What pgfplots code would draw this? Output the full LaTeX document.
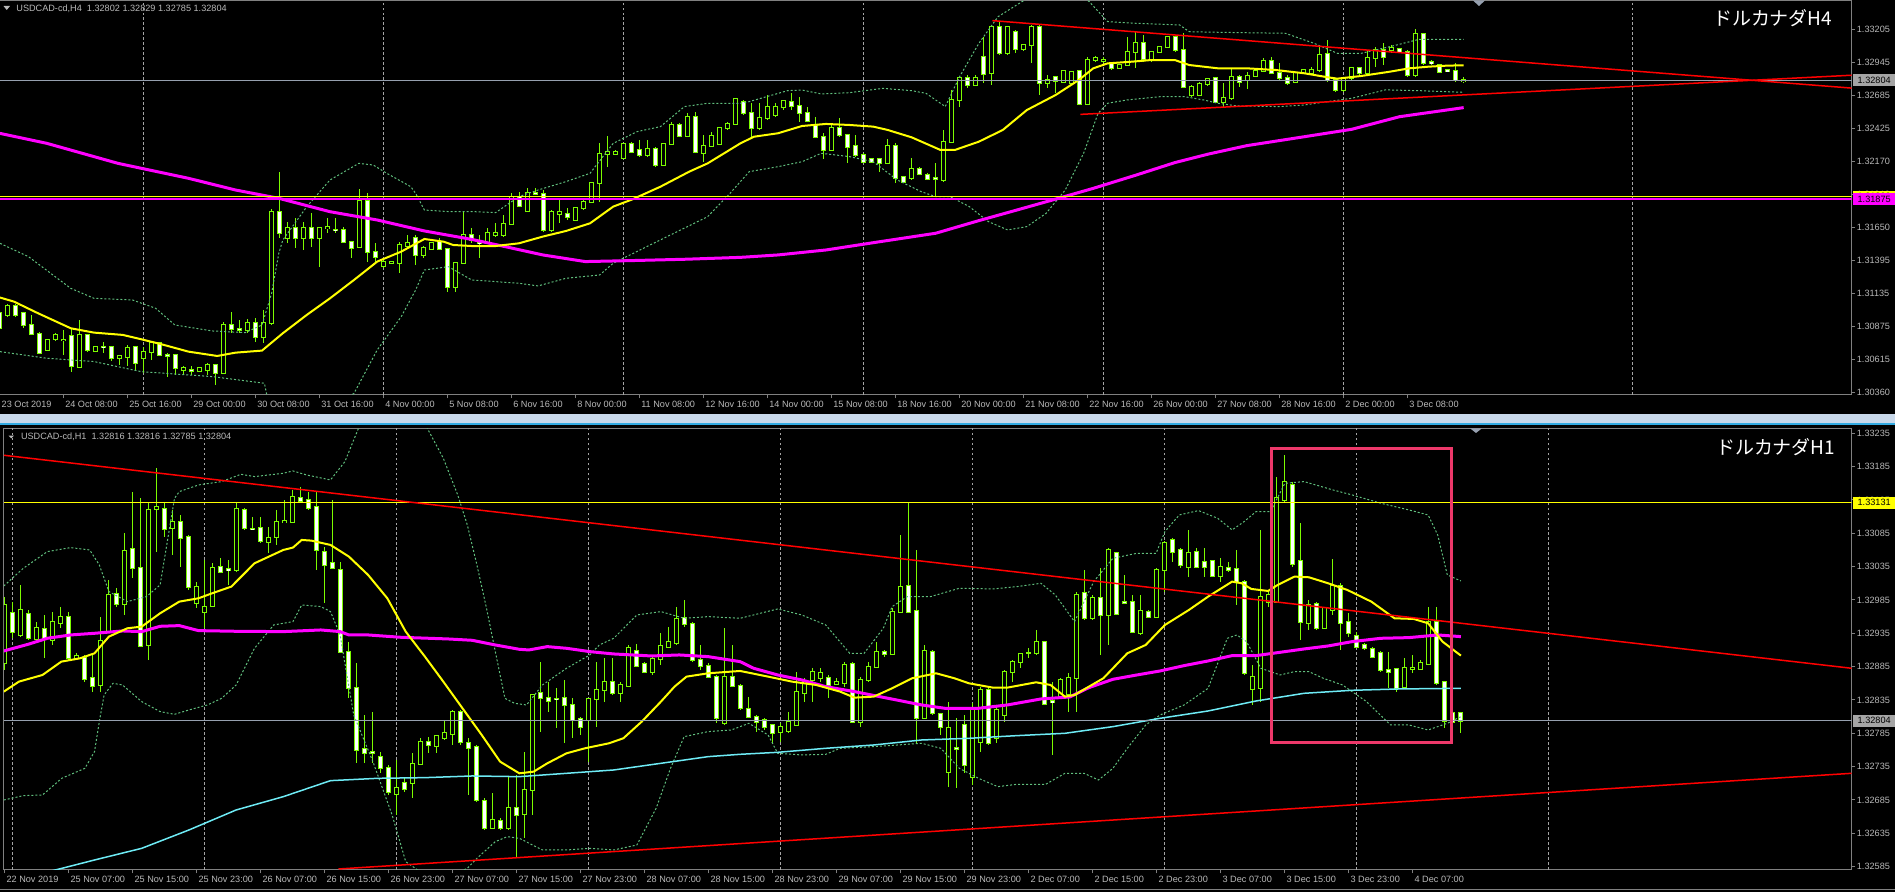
\documentclass[border=0pt]{standalone}
\usepackage{fontspec}
\setmainfont{Liberation Sans}
\newfontfamily\cjk{Noto Sans CJK JP}
\usepackage{pgfplots}
\usepackage{pgfplotstable}
\pgfplotsset{compat=1.18}

\definecolor{cgreen}{RGB}{124,252,0}
\definecolor{bbgreen}{RGB}{96,190,125}
\definecolor{mayel}{RGB}{255,255,0}
\definecolor{mamag}{RGB}{255,0,255}
\definecolor{macyan}{RGB}{110,235,245}
\definecolor{trred}{RGB}{255,0,0}
\definecolor{bidgray}{RGB}{150,160,175}
\definecolor{boxgray}{RGB}{165,165,165}
\definecolor{gridgray}{RGB}{165,165,165}
\definecolor{framegray}{RGB}{128,128,128}
\definecolor{txt}{RGB}{185,185,185}
\definecolor{sepblue}{RGB}{200,216,234}
\definecolor{sepline}{RGB}{50,170,225}
\definecolor{boxpink}{RGB}{238,56,106}
\definecolor{marker}{RGB}{150,160,175}

\newcommand\lbl{\fontsize{2.6}{3.1}\selectfont}

% H4 candles: i = bar index, prices in 0.0001 above 1.30000
\pgfplotstableread{
i o h l c
0 97.9 99.2 84.8 86.1
1 96.6 105.2 95.2 103.6
2 103.6 104.9 95.3 96.6
3 97.9 99.0 86.1 88.7
4 88.7 96.6 81.4 81.4
5 81.4 83.5 66.0 67.0
6 69.1 78.0 68.0 77.0
7 77.5 82.2 76.5 80.9
8 77.0 84.8 65.2 77.3
9 80.1 86.1 52.1 56.6
10 56.1 92.6 56.1 80.9
11 80.9 81.4 67.8 69.1
12 68.3 72.5 67.5 71.7
13 71.7 75.6 67.0 71.4
14 71.2 71.7 60.8 62.6
15 62.6 65.5 57.4 64.4
16 63.9 73.0 56.6 70.9
17 71.2 71.7 53.5 58.7
18 62.6 71.7 50.8 67.8
19 67.8 75.6 61.3 74.9
20 74.9 75.6 64.4 65.2
21 65.2 66.5 48.2 64.4
22 65.2 65.5 49.5 54.8
23 53.5 56.6 49.5 55.3
24 53.5 56.6 49.5 52.7
25 52.9 55.5 52.1 54.8
26 53.5 58.7 49.5 57.4
27 57.4 57.4 41.7 50.8
28 50.8 91.3 50.8 88.7
29 88.7 99.2 82.2 85.3
30 85.3 92.6 82.2 85.0
31 84.8 93.2 82.7 90.5
32 90.5 94.0 75.6 79.0
33 79.0 100.5 74.3 90.5
34 90.5 180.0 89.0 177.6
35 177.6 208.4 156.7 160.6
36 156.7 169.7 152.7 165.0
37 165.0 172.3 148.8 157.2
38 157.2 169.7 147.5 164.5
39 164.5 176.3 150.1 156.7
40 156.7 165.8 134.5 165.0
41 164.8 172.3 160.6 165.3
42 163.4 172.3 160.6 163.0
43 163.2 165.8 152.7 154.1
44 154.1 154.1 141.0 148.8
45 150.1 195.1 150.1 185.9
46 185.9 192.5 138.4 146.2
47 146.2 152.7 138.4 142.3
48 135.0 139.7 133.2 138.4
49 137.1 139.0 136.5 138.4
50 137.1 154.1 129.2 151.4
51 150.7 159.3 148.8 153.3
52 156.7 159.3 135.8 143.6
53 143.6 150.7 141.0 148.8
54 148.0 154.1 147.5 153.3
55 154.1 156.7 147.5 148.0
56 148.0 148.8 114.9 118.3
57 118.3 138.4 114.9 137.6
58 137.6 177.6 137.1 159.3
59 159.3 164.5 152.7 155.4
60 153.3 159.3 141.0 153.0
61 154.1 164.5 152.7 160.6
62 159.3 168.4 158.0 160.6
63 159.3 175.0 158.0 167.9
64 167.9 192.5 167.1 189.3
65 189.3 193.2 181.5 182.0
66 178.3 195.9 178.3 192.5
67 192.5 195.9 190.6 191.2
68 191.2 194.6 161.9 163.2
69 163.2 178.9 161.9 177.0
70 175.7 188.0 168.4 177.0
71 175.5 180.2 171.0 173.1
72 171.0 181.0 170.0 180.2
73 180.2 186.7 178.9 185.4
74 185.4 200.3 184.1 199.8
75 199.8 231.1 185.4 222.5
76 222.5 236.9 212.8 224.6
77 222.8 225.5 222.0 224.6
78 219.4 231.1 218.6 230.4
79 230.4 232.4 224.6 224.6
80 225.9 233.8 220.7 222.0
81 222.0 233.8 220.7 226.4
82 226.4 228.5 212.8 214.2
83 214.2 231.0 213.5 230.4
84 230.4 248.1 229.8 245.5
85 245.5 246.8 236.4 236.9
86 236.9 255.2 236.4 252.0
87 252.0 256.0 223.3 224.1
88 223.8 237.7 216.8 229.0
89 229.0 240.3 228.5 236.9
90 230.6 244.2 229.8 242.9
91 242.9 248.1 241.6 246.3
92 246.3 265.6 246.0 265.6
93 263.8 265.1 253.4 254.7
94 254.7 262.5 236.4 242.9
95 242.9 262.5 241.6 250.7
96 250.7 269.0 249.4 259.4
97 253.4 262.5 252.0 259.4
98 259.4 265.1 257.3 264.3
99 263.8 270.3 257.3 260.4
100 260.4 267.7 248.1 254.7
101 254.7 259.9 248.1 248.9
102 245.0 252.0 235.1 236.4
103 236.4 239.0 218.6 225.9
104 225.9 246.8 225.4 242.9
105 242.9 250.7 236.4 237.7
106 237.7 237.7 216.0 228.5
107 229.0 237.7 220.7 222.0
108 222.0 223.3 215.5 216.8
109 218.6 219.4 216.0 216.8
110 218.6 219.4 208.9 216.0
111 216.0 234.3 215.5 229.0
112 229.0 231.1 199.8 203.7
113 204.5 205.0 199.8 201.1
114 203.7 219.4 202.4 210.8
115 210.8 212.8 206.3 207.1
116 206.3 207.6 202.4 202.9
117 203.9 215.5 189.3 203.5
118 202.4 241.6 201.1 232.4
119 232.4 272.9 232.4 265.1
120 265.1 283.4 259.9 282.1
121 282.1 284.7 274.3 276.9
122 276.9 284.7 276.6 282.1
123 298.5 314.8 278.2 285.5
124 286.0 323.9 276.9 322.6
125 322.6 327.3 300.4 301.7
126 301.7 323.0 300.4 322.6
127 318.2 320.0 301.7 304.8
128 304.8 309.0 303.5 308.2
129 308.2 323.9 294.4 322.6
130 322.6 323.9 269.0 278.7
131 278.2 284.7 274.3 280.8
132 282.9 283.4 270.3 279.7
133 279.5 288.1 278.2 287.8
134 278.2 288.0 277.5 287.3
135 287.8 288.6 261.2 262.0
136 262.0 299.1 261.2 296.5
137 296.5 299.6 295.2 297.8
138 296.0 299.1 293.9 296.2
139 293.9 295.2 288.6 289.9
140 289.9 293.0 289.5 292.6
141 292.6 314.8 291.8 303.0
142 303.0 318.7 289.9 309.5
143 309.5 316.1 295.2 297.0
144 297.0 303.3 295.2 303.0
145 303.0 307.5 302.5 306.9
146 306.9 315.3 305.6 314.2
147 314.2 314.8 303.0 304.3
148 304.3 317.4 274.3 275.6
149 269.0 276.9 267.7 275.6
150 269.0 279.5 268.2 277.4
151 277.4 282.1 276.1 281.3
152 282.1 282.9 262.5 263.8
153 263.8 278.2 259.9 266.4
154 266.4 289.9 265.1 283.4
155 283.4 284.7 275.6 279.5
156 280.8 287.3 273.5 283.9
157 283.9 289.9 283.4 288.1
158 288.1 297.8 287.3 295.7
159 295.7 298.5 285.5 286.5
160 286.5 293.9 280.8 282.1
161 282.1 284.7 276.9 278.2
162 279.5 286.5 278.2 286.0
163 286.0 289.5 285.5 288.6
164 286.5 291.2 285.5 288.6
165 288.6 306.9 287.3 300.4
166 300.9 312.1 279.5 280.8
167 280.8 282.1 271.7 273.0
168 273.0 283.4 271.7 282.6
169 282.6 291.2 280.8 290.4
170 289.9 290.4 285.0 286.5
171 286.5 304.3 284.7 298.3
172 298.3 306.9 291.2 304.3
173 304.3 309.5 292.6 299.1
174 304.3 308.2 301.7 306.1
175 304.8 306.1 301.7 303.0
176 303.0 304.3 282.9 284.7
177 284.7 320.5 283.4 316.6
178 316.6 317.4 292.6 294.4
179 294.9 296.5 292.6 293.9
180 292.6 293.1 286.0 287.3
181 288.6 289.0 287.3 287.8
182 288.1 293.9 279.5 280.8
183 280.2 282.9 278.5 280.4
}\hfour

% H1 candles: j = bar index, prices in 0.0001 above 1.30000
\pgfplotstableread{
i o h l c
0 289.0 299.0 288.0 297.75
1 296.5 298.25 292.75 293.75
2 293.25 300.75 293.0 297.0
3 296.35 297.0 292.5 292.85
4 292.65 295.25 292.25 294.25
5 294.15 296.25 289.75 292.75
6 292.5 296.75 291.75 295.15
7 295.0 297.5 294.25 296.0
8 295.9 296.75 289.5 289.85
9 289.85 290.5 289.5 290.15
10 289.85 290.25 286.25 286.65
11 286.85 290.25 284.75 285.65
12 285.75 296.0 284.75 292.35
13 293.75 301.5 293.75 299.25
14 299.35 300.25 297.5 297.85
15 297.85 308.5 296.25 305.85
16 306.1 314.75 301.75 303.25
17 303.35 313.75 291.5 291.65
18 291.75 313.0 289.5 312.0
19 312.15 318.25 305.75 312.4
20 312.1 313.0 308.0 309.1
21 309.25 312.0 305.25 310.15
22 310.25 311.25 303.5 307.85
23 308.0 308.25 300.0 300.5
24 298.0 301.25 297.25 300.5
25 296.65 304.5 294.25 297.5
26 297.65 304.0 297.5 303.35
27 303.5 304.75 302.75 302.75
28 303.1 304.5 300.75 303.0
29 303.0 313.0 302.75 312.1
30 312.0 312.25 309.0 309.25
31 309.2 311.0 309.0 309.1
32 309.25 311.0 307.0 307.35
33 307.25 309.5 305.5 307.75
34 308.0 312.0 306.75 310.25
35 310.15 313.5 310.0 310.35
36 310.25 315.0 310.0 314.0
37 313.75 315.5 313.15 313.4
38 313.45 314.75 312.0 312.25
39 312.5 314.75 303.0 306.0
40 305.75 306.5 298.0 303.75
41 304.0 313.5 303.25 303.35
42 303.0 304.25 290.5 290.65
43 290.65 292.25 283.75 285.25
44 285.35 289.0 274.0 276.0
45 276.1 281.25 274.0 275.5
46 275.65 281.75 274.0 275.6
47 275.0 275.65 272.5 273.25
48 273.35 273.75 269.25 269.65
49 269.35 274.5 266.25 270.25
50 271.0 271.75 269.75 270.15
51 271.0 275.5 268.75 273.85
52 273.85 277.75 273.75 277.15
53 277.15 278.0 275.5 276.75
54 276.6 278.25 275.6 278.1
55 277.85 280.5 277.5 278.5
56 278.35 282.0 276.75 281.65
57 281.75 282.0 276.75 277.25
58 277.1 277.75 269.25 276.35
59 276.5 276.75 268.25 268.5
60 268.35 268.75 264.0 264.25
61 264.35 269.5 264.25 265.5
62 265.35 265.75 264.0 264.25
63 264.35 272.0 264.0 267.35
64 267.25 272.25 259.75 266.25
65 266.35 275.75 262.75 270.0
66 270.0 284.25 266.25 284.25
67 284.5 289.25 278.75 283.75
68 283.75 286.25 281.75 283.4
69 283.65 285.25 279.25 283.6
70 283.75 286.5 277.0 282.75
71 282.75 283.75 277.75 280.5
72 280.65 281.0 278.25 279.5
73 280.5 283.75 274.25 283.65
74 283.65 289.25 279.5 285.0
75 285.0 289.75 283.25 286.25
76 286.25 289.75 284.25 284.5
77 284.5 286.25 283.25 285.75
78 285.65 291.75 285.5 291.25
79 290.85 291.85 288.5 288.65
80 288.85 289.25 287.5 287.75
81 287.65 290.0 287.25 289.65
82 289.65 293.5 288.75 291.65
83 291.5 294.5 291.25 292.15
84 292.0 297.5 291.75 295.65
85 295.75 298.5 294.5 294.85
86 294.85 295.15 289.25 289.5
87 289.5 291.75 288.0 288.65
88 288.65 289.0 286.75 287.0
89 287.0 287.25 280.0 280.75
90 280.0 294.25 279.75 286.9
91 287.0 291.75 285.5 285.65
92 285.65 285.85 282.0 282.25
93 282.15 284.0 280.75 281.0
94 281.0 281.25 278.75 280.15
95 280.5 280.75 279.0 279.5
96 279.75 279.75 277.0 278.5
97 278.75 280.0 277.25 279.5
98 278.85 281.75 278.5 280.25
99 279.75 287.75 279.75 284.65
100 284.5 286.75 283.25 286.25
101 286.5 288.25 283.25 287.65
102 286.75 288.25 286.25 287.5
103 286.85 287.25 283.75 285.75
104 285.85 286.75 285.75 286.25
105 286.0 289.25 285.5 288.75
106 288.85 289.25 280.0 280.25
107 280.25 287.0 279.5 286.5
108 286.5 289.25 286.25 288.5
109 288.5 292.25 288.25 290.75
110 290.65 291.0 290.0 290.35
111 290.35 297.25 290.25 296.75
112 296.65 308.25 296.5 300.4
113 300.65 313.15 296.5 296.75
114 296.85 306.0 277.0 280.75
115 280.75 291.75 280.65 290.85
116 290.75 291.0 281.25 281.5
117 281.35 281.5 278.25 279.5
118 272.65 283.25 270.5 279.35
119 276.3 280.75 270.25 276.2
120 279.75 281.25 272.5 273.75
121 272.0 283.0 270.75 282.25
122 277.25 285.5 275.75 285.0
123 285.0 285.25 276.75 277.0
124 277.75 282.5 277.0 282.0
125 281.25 288.0 280.25 287.75
126 287.65 289.5 286.25 289.25
127 289.25 290.5 288.25 290.35
128 290.5 291.25 289.75 290.5
129 290.5 294.0 290.25 292.15
130 292.15 292.25 282.75 282.85
131 283.3 286.25 275.25 283.2
132 284.0 286.75 283.75 286.5
133 284.35 287.5 281.75 286.85
134 286.75 299.75 281.75 299.25
135 299.5 303.0 295.5 295.75
136 295.75 299.25 295.5 298.75
137 298.75 303.25 290.25 296.25
138 296.25 306.25 291.75 306.0
139 305.5 305.75 296.25 296.35
140 298.25 302.25 298.0 298.0
141 298.15 299.25 293.5 293.75
142 293.5 299.25 293.25 296.85
143 296.75 297.0 295.75 296.0
144 296.0 303.25 295.75 303.0
145 303.0 307.35 299.75 307.1
146 307.5 307.75 304.25 305.75
147 306.0 306.35 303.25 303.75
148 303.5 309.0 302.0 305.5
149 305.65 306.25 303.25 303.5
150 304.25 306.25 302.0 303.5
151 304.35 304.5 302.0 302.15
152 302.15 304.75 301.25 303.5
153 303.25 304.25 302.75 303.0
154 303.1 306.0 297.75 301.25
155 301.25 301.5 287.25 287.5
156 285.15 288.75 282.75 286.9
157 285.25 309.0 283.25 299.0
158 298.25 300.0 297.5 299.25
159 298.25 317.0 298.0 313.75
160 313.5 320.25 313.25 316.25
161 315.75 316.25 303.5 303.85
162 304.4 310.0 292.5 295.15
163 295.0 298.5 294.0 297.75
164 297.9 298.25 294.0 294.25
165 294.35 297.5 294.25 297.25
166 297.0 304.65 296.25 300.65
167 300.65 301.0 291.0 295.0
168 295.25 296.5 293.0 293.5
169 293.15 293.75 291.25 291.5
170 291.75 292.0 291.0 291.25
171 291.15 291.5 289.75 290.0
172 290.5 290.85 287.75 288.0
173 288.0 290.75 285.25 287.65
174 288.15 288.35 284.75 285.25
175 285.5 289.75 285.25 288.25
176 288.15 290.25 287.5 288.35
177 288.15 289.5 288.0 289.0
178 288.85 297.5 288.75 295.15
179 295.15 297.5 285.75 286.0
180 286.15 286.35 279.25 280.35
181 281.5 282.75 279.75 280.25
182 281.6 281.6 278.5 280.4
}\hone

\pgfplotsset{
  mtaxis/.style={
    scale only axis, clip mode=individual,
    axis line style={framegray, line width=0.1mm},
    tick align=outside, major tick length=0.35mm,
    every tick/.style={framegray, line width=0.1mm},
    xtick pos=bottom, ytick pos=right, yticklabel pos=right,
    xticklabel style={font=\lbl, text=txt, anchor=north west, inner sep=0pt, xshift=0.1mm, yshift=-0.2mm},
    yticklabel style={font=\lbl, text=txt, anchor=west, inner sep=0pt, xshift=0.1mm},
    extra x tick style={grid=major, major tick length=0pt},
    major grid style={gridgray, line width=0.1mm, dash pattern=on 0.25mm off 0.25mm},
  },
  wick/.style={draw=none, mark=none, forget plot,
    error bars/y dir=both, error bars/y explicit, error bars/error mark=none,
    error bars/error bar style={draw=cgreen, line width=0.1mm}},
  body/.style 2 args={draw=none, mark=none, forget plot,
    error bars/y dir=both, error bars/y explicit, error bars/error mark=none,
    error bars/error bar style={draw=#1, line width=#2}},
  bb/.style={bbgreen, line width=0.1mm, dash pattern=on 0.2mm off 0.2mm, mark=none},
}

\begin{document}
\begin{tikzpicture}
\useasboundingbox (0,0) rectangle (18.95cm,8.92cm);
\fill[black] (0,0) rectangle (18.95cm,8.92cm);
\fill[sepblue] (0,4.69cm) rectangle (18.95cm,4.78cm);
\draw[sepline, line width=0.12mm] (0,4.68cm) -- (18.95cm,4.68cm);
\draw[framegray, line width=0.1mm] (0,0.02cm) -- (18.95cm,0.02cm);

% ---------------- H4 ----------------
\begin{axis}[mtaxis,
  at={(0,4.97cm)}, anchor=south west, width=18.517cm, height=3.94cm,
  xmin=0.05, xmax=231.5, ymin=33.8, ymax=342.7,
  xtick={0.05,8,16,24,32,40,48,56,64,72,80,88,96,104,112,120,128,136,144,152,160,168,176},
  xticklabels={23 Oct 2019,24 Oct 08:00,25 Oct 16:00,29 Oct 00:00,30 Oct 08:00,31 Oct 16:00,4 Nov 00:00,5 Nov 08:00,6 Nov 16:00,8 Nov 00:00,11 Nov 08:00,12 Nov 16:00,14 Nov 00:00,15 Nov 08:00,18 Nov 16:00,20 Nov 00:00,21 Nov 08:00,22 Nov 16:00,26 Nov 00:00,27 Nov 08:00,28 Nov 16:00,2 Dec 00:00,3 Dec 08:00},
  ytick={36.0,61.86,87.73,113.59,139.46,165.32,191.18,217.05,242.91,268.78,294.64,320.5},
  yticklabels={1.30360,1.30615,1.30875,1.31135,1.31395,1.31650,1.31910,1.32170,1.32425,1.32685,1.32945,1.33205},
  extra x ticks={18,48,78,108,138,168,204.05}, extra x tick labels={},
]
\addplot[wick] table[x=i, y expr={(\thisrow{h}+\thisrow{l})/2}, y error expr={(\thisrow{h}-\thisrow{l})/2}] {\hfour};
\addplot[body={cgreen}{0.5mm}] table[x=i, y expr={(\thisrow{o}+\thisrow{c})/2}, y error expr={abs(\thisrow{o}-\thisrow{c})/2+0.78}] {\hfour};
\addplot[body={black}{0.3mm}, restrict expr to domain={\thisrow{c}-\thisrow{o}}{0.001:1000}] table[x=i, y expr={(\thisrow{o}+\thisrow{c})/2}, y error expr={abs(\thisrow{o}-\thisrow{c})/2}] {\hfour};
\addplot[body={white}{0.3mm}, restrict expr to domain={\thisrow{o}-\thisrow{c}}{0.001:1000}] table[x=i, y expr={(\thisrow{o}+\thisrow{c})/2}, y error expr={abs(\thisrow{o}-\thisrow{c})/2}] {\hfour};

% Bollinger bands
\addplot[bb] coordinates {(0.05,152.7) (3.6,142.3) (8.9,117.4) (11.8,109.6) (16.6,108.3) (19.5,101.8) (21.9,88.7) (26.6,84.0) (30.7,82.7) (32.8,88.7) (34.0,113.5) (34.9,144.9) (35.4,155.3) (38.4,181.5) (41.3,202.4) (44.9,215.4) (46.7,214.1) (48.4,207.6) (51.4,197.1) (52.0,191.9) (53.1,178.8) (56.1,177.6) (59.0,177.6) (62.0,176.8) (64.9,189.3) (67.3,194.5) (70.8,201.1) (73.8,207.6) (76.7,231.1) (79.7,240.3) (82.6,244.2) (85.6,259.9) (88.5,262.5) (92.6,262.5) (93.7,263.8) (98.5,272.4) (100.3,272.9) (102.7,269.8) (106.2,270.8) (110.4,274.2) (114.0,272.4) (115.8,270.3) (117.0,265.1) (118.2,259.9) (120.0,283.4) (122.4,309.5) (124.8,330.4) (127.8,342.2) (132.0,360.0) (136.2,342.2) (138.5,326.5) (142.1,325.2) (147.5,323.9) (148.7,318.6) (154.7,317.9) (160.7,317.4) (164.3,309.5) (167.2,301.7) (170.2,301.7) (173.8,306.9) (177.4,312.6) (183.0,312.6)};
\addplot[bb] coordinates {(0.05,67.8) (5.9,62.6) (11.8,60.0) (17.7,52.1) (26.6,48.2) (33.1,43.0) (33.4,33.8) (38.5,10) (44.3,35.1) (47.2,69.1) (50.2,95.2) (52.0,116.1) (53.1,131.8) (56.1,134.4) (59.0,124.0) (64.9,121.4) (67.3,119.3) (70.8,125.3) (75.0,127.9) (76.7,137.1) (82.6,155.4) (88.5,173.6) (91.3,191.9) (93.7,208.9) (97.3,212.8) (100.3,216.7) (102.7,223.3) (106.2,220.7) (109.2,216.7) (112.2,202.4) (115.2,193.2) (117.0,189.3) (118.8,189.3) (121.2,181.5) (123.6,169.7) (126.0,163.2) (128.4,165.8) (130.8,176.2) (133.2,194.5) (135.5,223.3) (137.3,254.6) (138.5,262.5) (140.9,265.1) (145.1,267.7) (148.1,267.7) (150.5,265.1) (152.3,262.5) (154.7,260.4) (160.1,259.9) (163.1,261.2) (166.0,263.8) (169.0,266.4) (173.2,273.0) (177.4,272.4) (183.0,271.1)};
% moving averages
\addplot[mamag, line width=0.3mm, mark=none] coordinates {(0.05,238.9) (5.9,231.1) (14.8,215.4) (23.6,203.7) (29.5,194.5) (34.9,188.0) (41.3,177.5) (47.2,171.0) (53.1,162.4) (59.0,155.8) (63.2,150.1) (67.9,143.6) (73.2,138.4) (78.5,139.1) (85.6,140.2) (92.6,141.7) (97.3,143.6) (103.3,147.5) (109.2,153.2) (117.0,160.6) (122.4,170.5) (127.2,178.9) (131.9,187.2) (136.7,195.8) (142.1,206.3) (146.9,216.0) (151.1,222.7) (155.9,229.3) (163.1,236.3) (169.0,242.1) (175.0,252.0) (183.0,259.1)};
\addplot[mayel, line width=0.2mm, mark=none] coordinates {(0.05,110.2) (1.8,107.0) (4.8,97.9) (8.9,86.1) (11.8,82.7) (15.4,80.9) (17.7,77.5) (20.1,73.8) (23.6,67.8) (27.2,64.4) (29.5,67.0) (32.8,68.6) (35.4,82.2) (38.4,96.6) (41.3,109.6) (44.3,124.0) (47.2,138.4) (50.2,146.2) (53.1,156.1) (55.5,154.0) (56.7,151.4) (59.0,150.6) (62.0,150.6) (64.9,152.7) (67.9,158.0) (70.8,162.4) (73.8,168.4) (76.7,181.5) (79.1,187.2) (82.6,197.1) (86.2,208.9) (88.5,215.4) (92.6,231.1) (94.3,236.3) (97.3,239.0) (100.3,244.7) (103.3,246.3) (106.2,245.5) (109.2,244.2) (111.0,241.6) (114.0,235.8) (117.6,225.9) (119.4,225.9) (122.4,232.4) (125.4,241.6) (128.4,257.2) (132.0,269.0) (134.9,280.8) (136.7,289.9) (138.5,293.8) (141.5,295.1) (143.9,296.4) (146.9,296.4) (148.7,292.5) (152.3,289.9) (155.9,289.9) (159.5,288.6) (163.1,286.0) (166.0,282.9) (167.2,281.8) (170.2,283.9) (173.8,287.3) (176.2,289.9) (178.6,291.2) (180.9,292.0) (183.0,292.3)};
% objects
\addplot[mayel, line width=0.12mm, mark=none] coordinates {(0.05,189.3) (231.5,189.3)};
\addplot[mamag, line width=0.12mm, mark=none] coordinates {(0.05,187.5) (231.5,187.5)};
\addplot[bidgray, line width=0.12mm, mark=none] coordinates {(0.05,280.4) (231.5,280.4)};
\addplot[trred, line width=0.15mm, mark=none] coordinates {(124.1,327.3) (231.5,274.4)};
\addplot[trred, line width=0.15mm, mark=none] coordinates {(135.1,253.8) (231.5,284.5)};
\coordinate (tbid) at (axis cs:231.5,280.4);
\coordinate (tyel) at (axis cs:231.5,189.3);
\coordinate (tmag) at (axis cs:231.5,187.5);
\end{axis}

% ---------------- H1 ----------------
\begin{axis}[mtaxis,
  at={(0.038cm,0.22cm)}, anchor=south west, width=18.479cm, height=4.417cm,
  xmin=-0.14, xmax=230.85, ymin=258.0, ymax=324.25,
  xtick={0,8,...,176},
  xticklabels={22 Nov 2019,25 Nov 07:00,25 Nov 15:00,25 Nov 23:00,26 Nov 07:00,26 Nov 15:00,26 Nov 23:00,27 Nov 07:00,27 Nov 15:00,27 Nov 23:00,28 Nov 07:00,28 Nov 15:00,28 Nov 23:00,29 Nov 07:00,29 Nov 15:00,29 Nov 23:00,2 Dec 07:00,2 Dec 15:00,2 Dec 23:00,3 Dec 07:00,3 Dec 15:00,3 Dec 23:00,4 Dec 07:00},
  ytick={258.5,263.5,268.5,273.5,278.5,283.5,288.5,293.5,298.5,303.5,308.5,313.5,318.5,323.5},
  yticklabels={1.32585,1.32635,1.32685,1.32735,1.32785,1.32835,1.32885,1.32935,1.32985,1.33035,1.33085,1.33135,1.33185,1.33235},
  extra x ticks={1,25,49,73,97,121,145,169,193}, extra x tick labels={},
]
\addplot[wick] table[x=i, y expr={(\thisrow{h}+\thisrow{l})/2}, y error expr={(\thisrow{h}-\thisrow{l})/2}] {\hone};
\addplot[body={cgreen}{0.5mm}] table[x=i, y expr={(\thisrow{o}+\thisrow{c})/2}, y error expr={abs(\thisrow{o}-\thisrow{c})/2+0.15}] {\hone};
\addplot[body={black}{0.3mm}, restrict expr to domain={\thisrow{c}-\thisrow{o}}{0.001:1000}] table[x=i, y expr={(\thisrow{o}+\thisrow{c})/2}, y error expr={abs(\thisrow{o}-\thisrow{c})/2}] {\hone};
\addplot[body={white}{0.3mm}, restrict expr to domain={\thisrow{o}-\thisrow{c}}{0.001:1000}] table[x=i, y expr={(\thisrow{o}+\thisrow{c})/2}, y error expr={abs(\thisrow{o}-\thisrow{c})/2}] {\hone};

% Bollinger bands
\addplot[bb] coordinates {(-0.14,300.6) (2.3,303.25) (5.3,305.75) (8.2,306.35) (10.6,306.0) (11.8,303.75) (13.0,299.75) (15.3,298.25) (17.7,299.0) (19.4,300.75) (21.2,313.75) (21.8,314.75) (24.2,315.75) (27.1,316.25) (29.5,317.35) (31.2,317.0) (34.8,317.5) (36.0,317.85) (37.7,317.25) (40.7,316.5) (42.5,319.25) (43.6,322.5) (44.2,324.25) (48.5,335) (52.8,324.25) (54.8,319.75) (56.6,314.25) (57.8,309.75) (59.0,303.75) (60.2,297.25) (61.3,290.75) (62.5,283.75) (63.7,283.0) (65.2,282.75) (67.2,285.75) (70.2,288.25) (73.1,290.25) (74.3,291.75) (76.1,292.75) (79.0,296.25) (82.0,296.75) (84.9,295.75) (87.9,296.0) (91.9,295.75) (96.6,297.15) (99.6,296.25) (102.6,294.75) (105.6,290.5) (107.4,290.5) (109.8,294.25) (110.9,297.5) (112.8,299.0) (115.7,299.0) (119.3,300.25) (123.5,300.15) (126.5,300.5) (129.5,301.0) (131.3,299.25) (133.7,295.25) (136.1,301.25) (138.5,304.75) (141.5,305.5) (143.9,305.5) (145.0,308.75) (146.8,311.25) (149.2,311.9) (151.6,310.75) (153.4,309.0) (154.9,310.25) (156.4,311.75) (158.2,311.75) (160.0,316.0) (162.4,316.25) (166.0,315.0) (168.4,314.25) (172.0,313.0) (175.5,312.0) (177.9,311.25) (179.1,308.25) (180.3,302.25) (182.0,301.35)};
\addplot[bb] coordinates {(-0.14,268.5) (2.3,269.15) (4.7,269.25) (7.1,271.75) (10.0,273.25) (11.2,275.75) (11.8,280.25) (12.4,284.25) (13.5,286.0) (14.7,285.75) (17.1,283.25) (19.4,281.75) (21.2,281.35) (23.0,282.0) (25.3,282.75) (27.1,283.75) (28.9,285.75) (31.2,291.25) (33.6,294.75) (36.0,295.25) (37.1,297.75) (39.5,297.5) (40.7,296.75) (41.9,293.25) (43.6,281.25) (46.0,274.25) (48.4,266.25) (50.1,259.25) (51.3,258.25) (53.7,256.0) (57.8,258.25) (59.0,259.75) (61.3,262.25) (62.8,263.0) (64.3,262.75) (67.2,261.0) (70.2,261.0) (73.1,261.25) (76.1,261.0) (79.0,261.75) (81.4,267.25) (83.2,273.25) (84.9,278.0) (87.9,278.75) (90.8,279.0) (93.0,280.0) (95.4,278.25) (96.6,275.5) (99.6,275.25) (102.6,275.35) (104.4,276.25) (108.6,276.5) (111.6,276.75) (114.6,277.0) (117.0,276.25) (119.3,273.25) (121.7,271.75) (124.1,270.5) (126.5,270.85) (130.1,270.85) (132.5,272.5) (134.9,272.5) (136.7,271.5) (138.5,273.25) (140.3,276.25) (142.6,279.75) (144.4,281.25) (147.4,282.75) (150.4,285.25) (152.8,292.75) (154.0,293.25) (155.2,292.25) (157.0,288.25) (159.4,287.25) (161.2,287.75) (163.0,287.75) (164.8,286.75) (167.2,285.75) (170.2,283.25) (173.2,279.75) (175.5,279.75) (177.9,279.0) (180.3,280.0) (182.0,281.0)};
% moving averages
\addplot[macyan, line width=0.15mm, mark=none] coordinates {(0,256.1) (6.8,258.15) (11.2,259.5) (17.1,261.25) (23.0,264.0) (28.9,267.0) (34.8,269.0) (40.7,271.4) (46.6,271.75) (52.5,271.85) (58.4,272.1) (64.3,272.0) (70.2,272.5) (76.1,273.0) (82.0,274.0) (87.9,275.0) (91.9,275.35) (96.6,275.65) (102.6,276.25) (108.6,276.75) (114.6,277.5) (120.5,277.75) (126.5,278.15) (132.5,278.5) (138.5,279.5) (144.4,280.75) (150.4,281.85) (156.4,283.35) (162.4,284.5) (168.4,284.95) (174.3,285.15) (182.0,285.25)};
\addplot[mamag, line width=0.3mm, mark=none] coordinates {(-0.14,290.85) (2.9,291.85) (5.3,292.75) (8.2,293.25) (11.2,293.5) (14.7,293.85) (17.1,293.75) (19.4,294.55) (21.8,294.65) (24.2,293.9) (28.9,293.8) (34.8,293.75) (39.5,294.0) (41.9,293.75) (43.0,293.25) (45.4,293.25) (49.5,292.9) (55.4,292.65) (58.4,292.45) (61.3,291.75) (64.3,291.1) (65.5,291.0) (67.8,291.5) (70.2,291.25) (73.1,290.75) (76.1,290.4) (80.8,290.1) (84.3,290.25) (87.9,290.0) (91.9,289.25) (93.6,288.25) (96.6,287.25) (99.6,286.5) (102.6,285.5) (106.2,284.75) (110.4,283.75) (114.6,282.75) (117.5,282.25) (121.7,282.25) (125.3,282.75) (129.5,283.65) (133.1,283.95) (135.5,285.35) (138.5,286.6) (141.5,287.25) (144.4,287.85) (147.4,288.65) (150.4,289.35) (153.4,290.15) (156.4,290.15) (159.4,290.65) (162.4,291.15) (165.4,291.6) (168.4,292.25) (172.0,292.75) (175.5,292.85) (179.1,293.25) (182.0,293.0)};
\addplot[mayel, line width=0.2mm, mark=none] coordinates {(-0.14,284.75) (1.75,286.25) (4.7,287.25) (7.05,289.25) (9.4,289.75) (11.2,290.5) (13.0,293.0) (15.3,294.25) (17.1,294.5) (19.4,296.5) (21.8,298.25) (24.2,298.75) (25.9,299.5) (28.3,300.5) (31.2,304.0) (34.8,306.0) (36.0,306.35) (37.1,307.5) (38.3,307.4) (40.7,306.75) (43.0,305.0) (45.4,302.25) (47.8,298.75) (50.1,293.75) (52.5,290.0) (54.8,286.25) (57.2,282.25) (59.6,278.25) (61.9,274.25) (64.3,272.5) (66.1,272.75) (67.8,274.0) (70.2,275.5) (72.5,276.25) (75.5,277.0) (77.3,277.75) (79.6,280.25) (82.0,283.25) (83.7,285.5) (85.2,287.0) (87.9,287.5) (91.9,287.85) (95.4,287.0) (98.4,286.25) (101.4,285.75) (104.4,284.75) (106.2,283.85) (108.6,284.0) (110.9,285.25) (113.4,286.75) (116.4,287.5) (118.7,286.75) (120.5,286.0) (123.5,285.35) (125.3,285.35) (128.9,286.15) (130.7,285.75) (132.5,284.0) (133.7,284.25) (137.3,286.75) (140.3,290.5) (142.6,291.75) (145.0,294.75) (148.0,297.0) (150.4,299.0) (153.4,301.25) (154.6,301.0) (155.8,300.15) (157.9,299.85) (159.1,300.75) (161.2,302.0) (163.0,301.9) (165.4,301.0) (167.8,300.0) (170.8,298.25) (173.7,295.75) (176.1,295.65) (177.9,295.0) (179.7,292.25) (182.0,290.15)};
% objects
\addplot[mayel, line width=0.12mm, mark=none] coordinates {(-0.14,313.1) (230.85,313.1)};
\addplot[bidgray, line width=0.12mm, mark=none] coordinates {(-0.14,280.4) (230.85,280.4)};
\addplot[trred, line width=0.15mm, mark=none] coordinates {(-0.14,320.2) (230.85,288.25)};
\addplot[trred, line width=0.15mm, mark=none] coordinates {(41.7,258.15) (230.85,272.5)};
\draw[boxpink, line width=0.3mm] (axis cs:158.3,277.1) rectangle (axis cs:180.8,321.15);
\coordinate (bbid) at (axis cs:230.85,280.4);
\coordinate (byel) at (axis cs:230.85,313.1);
\end{axis}

% price boxes on the scale
\tikzset{pbox/.style={anchor=west, inner sep=0pt, minimum width=4.15mm, minimum height=1.2mm, font=\lbl, text=black, xshift=0.1mm}}
\node[pbox, fill=boxgray] at (tbid) {1.32804};
\node[pbox, fill=mayel] at (tyel) {1.31893};
\node[pbox, fill=mamag] at (tmag) {1.31875};
\node[pbox, fill=mayel] at (byel) {1.33131};
\node[pbox, fill=boxgray] at (bbid) {1.32804};

% headers
\fill[txt] (0.035cm,8.86cm) -- (0.10cm,8.86cm) -- (0.0675cm,8.82cm) -- cycle;
\node[anchor=west, text=txt, font=\lbl, inner sep=0pt] at (0.157cm,8.837cm) {USDCAD-cd,H4\ \ 1.32802 1.32829 1.32785 1.32804};
\fill[txt] (0.085cm,4.563cm) -- (0.14cm,4.563cm) -- (0.1125cm,4.535cm) -- cycle;
\node[anchor=west, text=txt, font=\lbl, inner sep=0pt] at (0.203cm,4.553cm) {USDCAD-cd,H1\ \ 1.32816 1.32816 1.32785 1.32804};
\fill[marker] (14.73cm,8.915cm) -- (14.85cm,8.915cm) -- (14.79cm,8.86cm) -- cycle;
\fill[marker] (14.70cm,4.637cm) -- (14.82cm,4.637cm) -- (14.76cm,4.59cm) -- cycle;

% titles
\node[anchor=east, text=white, font=\cjk\fontsize{5.4}{6}\selectfont, inner sep=0pt] at (18.33cm,8.74cm) {ドルカナダH4};
\node[anchor=east, text=white, font=\cjk\fontsize{5.4}{6}\selectfont, inner sep=0pt] at (18.36cm,4.447cm) {ドルカナダH1};
\end{tikzpicture}
\end{document}
